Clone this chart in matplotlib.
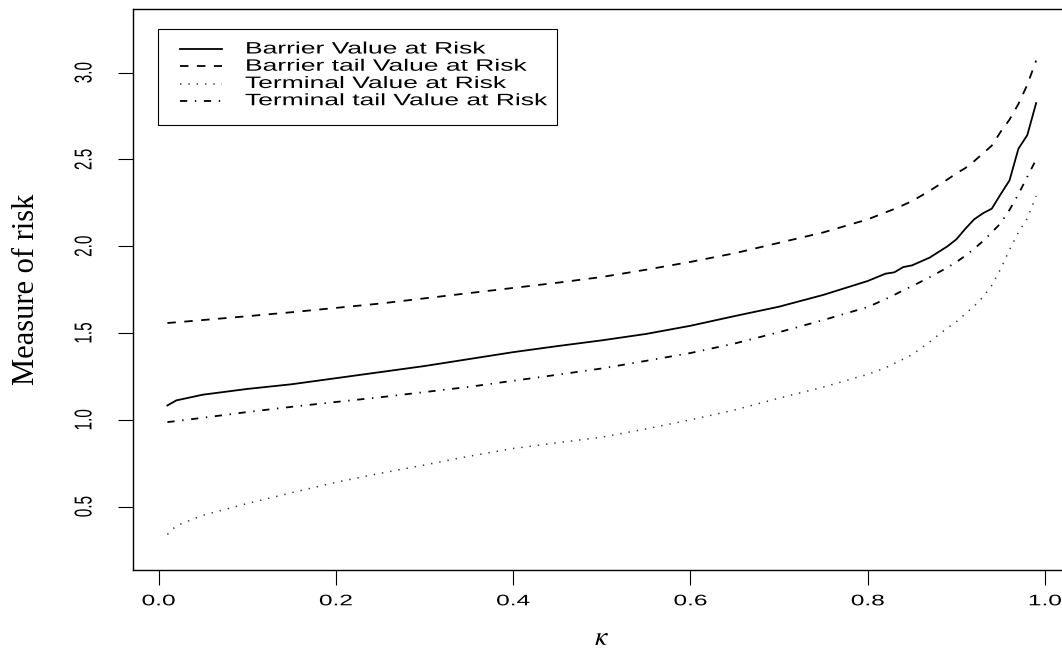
import matplotlib
matplotlib.use("Agg")
import matplotlib.pyplot as plt
from matplotlib.patches import Rectangle
from matplotlib.lines import Line2D
from matplotlib.patheffects import AbstractPathEffect
from matplotlib.transforms import Affine2D
from matplotlib.ticker import FormatStrFormatter

plt.rcParams['font.family'] = ['Liberation Sans', 'DejaVu Sans']
plt.rcParams['mathtext.fontset'] = 'stix'
plt.rcParams['lines.scale_dashes'] = False

kappa = [0.01, 0.02, 0.05, 0.10, 0.15, 0.20, 0.25, 0.30, 0.35, 0.40, 0.45, 0.50,
         0.55, 0.60, 0.65, 0.70, 0.75, 0.80, 0.82, 0.83, 0.84, 0.85, 0.87, 0.89,
         0.90, 0.91, 0.92, 0.93, 0.94, 0.95, 0.96, 0.97, 0.98, 0.99]

barrier_var = [1.083, 1.112, 1.145, 1.178, 1.205, 1.240, 1.275, 1.310, 1.350, 1.390,
               1.425, 1.458, 1.495, 1.542, 1.598, 1.652, 1.720, 1.800, 1.842, 1.850,
               1.880, 1.890, 1.935, 2.000, 2.040, 2.100, 2.155, 2.190, 2.217, 2.300,
               2.380, 2.562, 2.640, 2.825]

barrier_tvar = [1.558, 1.562, 1.575, 1.597, 1.620, 1.645, 1.670, 1.700, 1.730, 1.760,
                1.790, 1.823, 1.865, 1.910, 1.960, 2.020, 2.080, 2.155, 2.195, 2.215,
                2.237, 2.260, 2.320, 2.385, 2.420, 2.450, 2.490, 2.535, 2.580, 2.660,
                2.730, 2.820, 2.930, 3.070]

terminal_var = [0.340, 0.390, 0.450, 0.518, 0.580, 0.640, 0.692, 0.740, 0.790, 0.835,
                0.868, 0.900, 0.948, 1.000, 1.057, 1.125, 1.189, 1.262, 1.300, 1.325,
                1.350, 1.375, 1.450, 1.530, 1.565, 1.610, 1.655, 1.707, 1.775, 1.870,
                1.980, 2.080, 2.160, 2.290]

terminal_tvar = [0.987, 0.993, 1.012, 1.045, 1.075, 1.103, 1.130, 1.160, 1.190, 1.225,
                 1.260, 1.296, 1.340, 1.385, 1.440, 1.505, 1.575, 1.650, 1.695, 1.720,
                 1.746, 1.770, 1.822, 1.878, 1.909, 1.945, 1.985, 2.030, 2.080, 2.133,
                 2.210, 2.300, 2.400, 2.500]

labels = ["Barrier Value at Risk", "Barrier tail Value at Risk",
          "Terminal Value at Risk", "Terminal tail Value at Risk"]

x_ticks = [0.0, 0.2, 0.4, 0.6, 0.8, 1.0]
y_ticks = [0.5, 1.0, 1.5, 2.0, 2.5, 3.0]

styles = [
    dict(color='black', lw=1.3, linestyle='-'),
    dict(color='black', lw=1.3, linestyle=(0, (6.1, 6.1))),
    dict(color='#333333', lw=1.1, linestyle=(0, (1.0, 5.0))),
    dict(color='black', lw=1.3, linestyle=(0, (5.2, 5.5, 1.0, 5.5))),
]

TEXT_STRETCH = 1.6


class Stretch(AbstractPathEffect):
    """Widen text glyphs horizontally (display x) around a fixed point."""

    def __init__(self, sx, anchor='center'):
        super().__init__()
        self.sx = sx
        self.anchor = anchor

    def draw_path(self, renderer, gc, tpath, affine, rgbFace=None):
        if self.anchor == 'left':
            x0 = affine.get_matrix()[0, 2]
        else:
            ext = tpath.get_extents(affine)
            x0 = 0.5 * (ext.x0 + ext.x1)
        affine = affine + Affine2D().translate(-x0, 0).scale(self.sx, 1).translate(x0, 0)
        renderer.draw_path(gc, tpath, affine, rgbFace)


fig = plt.figure(figsize=(10.62, 6.55), dpi=100)
ax = fig.add_axes([133 / 1062, 1 - 570 / 655, 937 / 1062, 561 / 655])

for y, st in zip([barrier_var, barrier_tvar, terminal_var, terminal_tvar], styles):
    ax.plot(kappa, y, **st)

ax.set_xlim(-0.0288, 1.0282)
ax.set_ylim(0.135, 3.367)

ax.set_xticks(x_ticks)
ax.set_yticks(y_ticks)
ax.xaxis.set_major_formatter(FormatStrFormatter('%.1f'))
ax.yaxis.set_major_formatter(FormatStrFormatter('%.1f'))
ax.tick_params(direction='out', length=11, width=0.8, labelsize=11)
ax.tick_params(axis='x', pad=6.5)
ax.tick_params(axis='y', pad=19)
for lbl in ax.get_yticklabels():
    lbl.set_rotation(90)
    lbl.set_va('center')
for lbl in ax.get_xticklabels() + ax.get_yticklabels():
    lbl.set_path_effects([Stretch(TEXT_STRETCH)])

for sp in ax.spines.values():
    sp.set_linewidth(1.0)

ax.set_xlabel(r'$\kappa$', fontsize=20, labelpad=12)
ax.set_ylabel('Measure of risk', family='Liberation Serif', fontsize=22, labelpad=26)

# legend drawn by hand so the box fits the widened text
ax.add_patch(Rectangle((0.0272, 0.7932), 0.4253, 0.1711, transform=ax.transAxes,
                       fill=False, ec='black', lw=0.8))
rows = [0.9287, 0.8980, 0.8672, 0.8365]
for label, st, yr in zip(labels, styles, rows):
    ax.add_line(Line2D([0.0502, 0.0950], [yr, yr], transform=ax.transAxes, **st))
    ax.text(0.1195, yr, label, transform=ax.transAxes, ha='left', va='center',
            fontsize=11.9, path_effects=[Stretch(TEXT_STRETCH, 'left')])

fig.savefig('out.png', dpi=100)
